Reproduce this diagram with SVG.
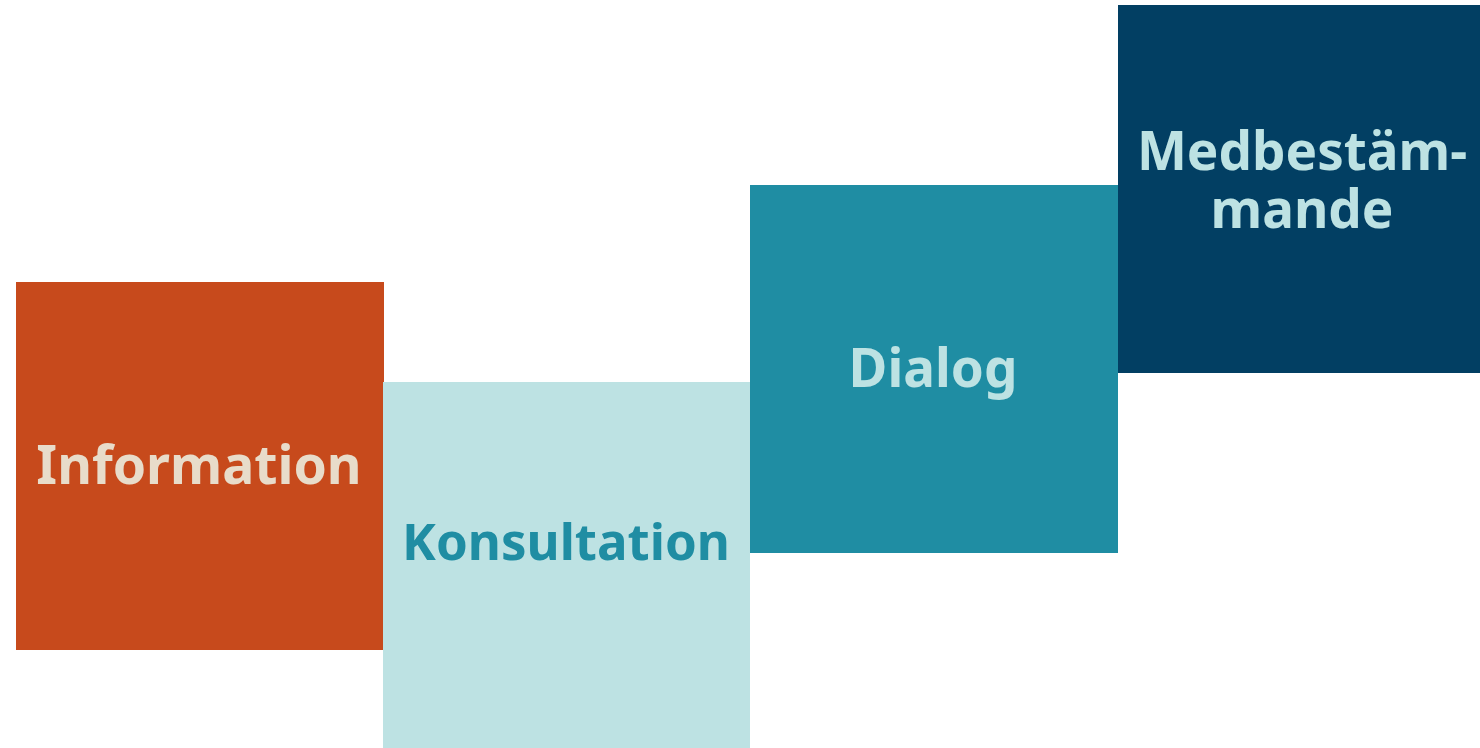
<svg xmlns="http://www.w3.org/2000/svg" width="1480" height="748" viewBox="0 0 1480 748">
<style>
text{font-family:"Noto Sans","Open Sans",sans-serif;font-weight:700;font-size:53px;text-anchor:middle}
.light{fill:#BDE2E3}
</style>
<rect width="1480" height="748" fill="#FFFFFF"/>
<g id="node-information">
<rect x="16" y="282" width="368" height="368" fill="#C74A1C"/>
<text x="199" y="484" fill="#E8DCCA" style="font-size:53.5px">Information</text>
</g>
<g id="node-konsultation">
<rect x="383" y="382" width="367" height="366" fill="#BDE2E3"/>
<text x="566" y="560" fill="#1F8DA3" style="font-size:51px">Konsultation</text>
</g>
<g id="node-dialog">
<rect x="750" y="185" width="368" height="368" fill="#1F8DA3"/>
<text x="933" y="387" class="light">Dialog</text>
</g>
<g id="node-medbestammande">
<rect x="1118" y="5" width="362" height="368" fill="#023F63"/>
<text x="1302" y="170" class="light">Medbestäm-</text>
<text x="1302" y="228" class="light">mande</text>
</g>
<g id="connectors"></g>
</svg>
